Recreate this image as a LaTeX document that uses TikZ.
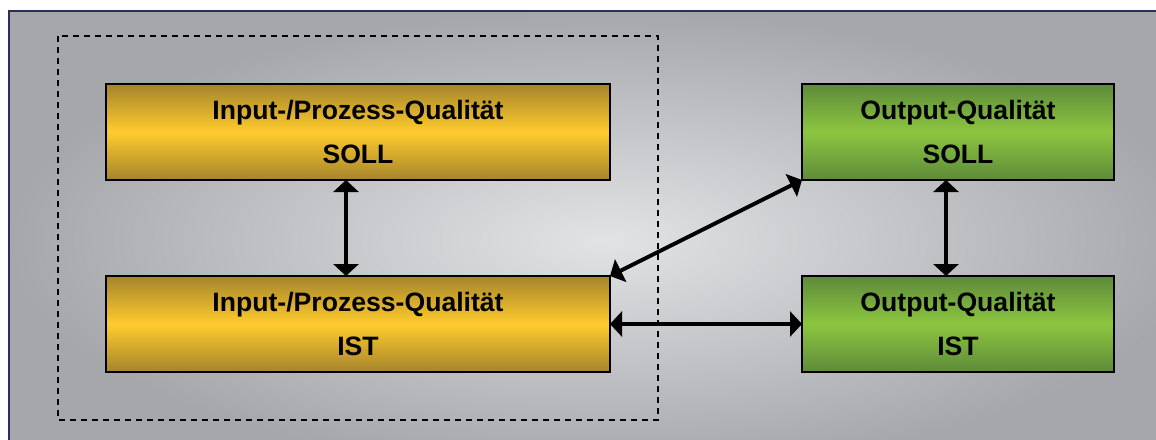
\documentclass[tikz,border=0pt]{standalone}
\usepackage{fontspec}
\setmainfont{Liberation Sans}
\usetikzlibrary{arrows.meta}
\definecolor{ydark}{HTML}{A5852C}
\definecolor{ylight}{HTML}{FFCB2D}
\definecolor{gdark}{HTML}{5E8A3B}
\definecolor{glight}{HTML}{8CC63F}
\definecolor{bgin}{HTML}{E2E3E5}
\definecolor{bgout}{HTML}{A6A7AB}
\definecolor{frame}{HTML}{2B2D5A}
\tikzset{
  qbox/.style={draw=black, line width=1.5pt, minimum width=504pt, minimum height=96pt,
    outer sep=0pt, align=center, font=\bfseries\fontsize{26.6}{44}\selectfont},
  ybox/.style={qbox, top color=ydark, bottom color=ydark, middle color=ylight},
  gbox/.style={qbox, minimum width=312pt, top color=gdark, bottom color=gdark, middle color=glight},
  dbl/.style={line width=4pt, {Triangle[width=25pt,length=12pt]}-{Triangle[width=25pt,length=12pt]}},
  dashframe/.style={draw=black, line width=1.4pt, dash pattern=on 6pt off 5pt}
}
\begin{document}
\begin{tikzpicture}[x=1pt,y=-1pt]
\useasboundingbox (0,0) rectangle (1156,439);
\begin{scope}
\clip (0,0) rectangle (1156,439);
\fill[white] (0,0) rectangle (1156,439);
\shade[inner color=bgin, outer color=bgout] (9,11) rectangle (1200,470);
\draw[frame, line width=1.2pt] (9,11) rectangle (1200,470);
\end{scope}
\draw[dashframe] (58,36) rectangle (658,420);
\node[ybox] (ys) at (358,132) {Input-/Prozess-Qualität\\SOLL};
\node[ybox] (yi) at (358,324) {Input-/Prozess-Qualität\\IST};
\node[gbox] (gs) at (958,132) {Output-Qualität\\SOLL};
\node[gbox] (gi) at (958,324) {Output-Qualität\\IST};
\draw[dbl] ([xshift=-12pt]ys.south) -- ([xshift=-12pt]yi.north);
\draw[dbl] ([xshift=-12pt]gs.south) -- ([xshift=-12pt]gi.north);
\draw[dbl] (yi.north east) -- (gs.south west);
\draw[dbl] (yi.east) -- (gi.west);
\end{tikzpicture}
\end{document}
